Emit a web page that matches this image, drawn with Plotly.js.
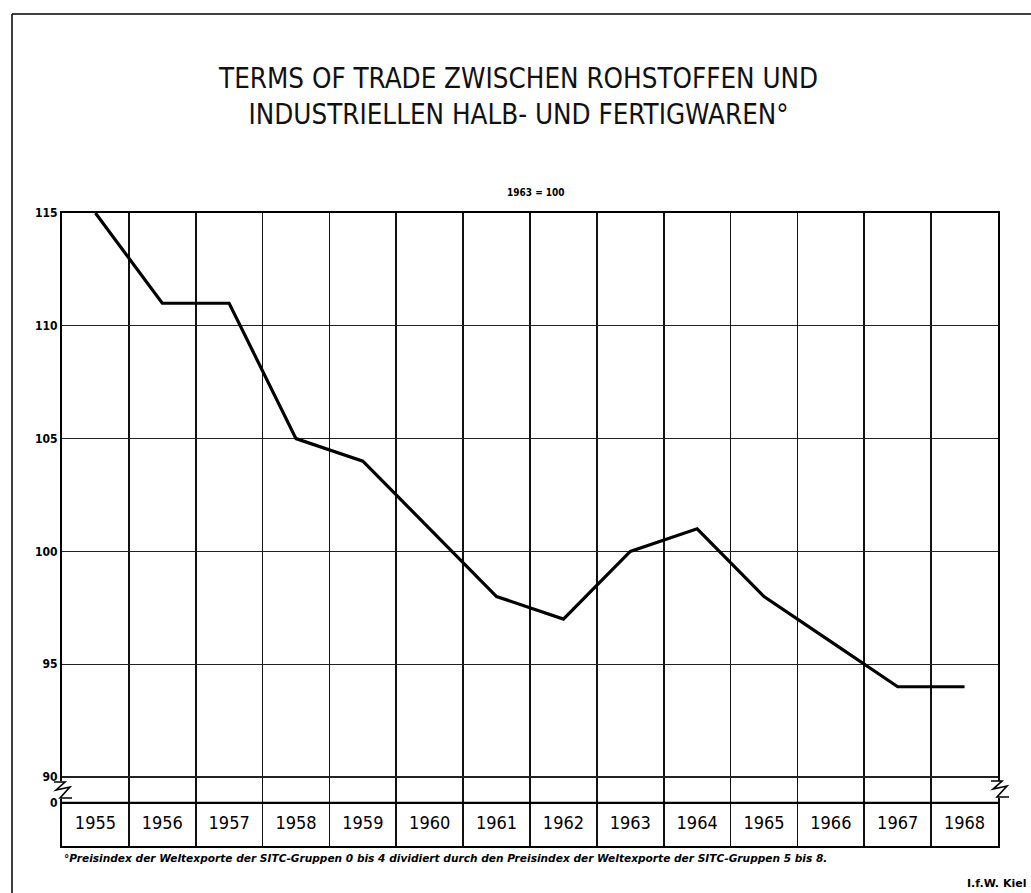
<!DOCTYPE html>
<html>
<head>
<meta charset="utf-8">
<script src="https://cdn.plot.ly/plotly-3.0.1.min.js"></script>
<style>html,body{margin:0;padding:0;background:#fff}#chart{width:1031px;height:893px}</style>
</head>
<body>
<div id="chart"></div>
<script>
// ---- data ----
const years = [1955,1956,1957,1958,1959,1960,1961,1962,1963,1964,1965,1966,1967,1968];
const termsOfTrade = [115,111,111,105,104,101,98,97,100,101,98,96,94,94];
const yTickVals = [90,95,100,105,110,115];
const yTickText = ['90','95','100','105','110','115'];
const breakValue = 88.85;      // position of the axis-break "0"
const boxMid = 87.9;           // vertical centre of the year boxes
const yMin = 86.94, yMax = 115;

// layout geometry (pixels)
const W = 1031, H = 893, L = 62, R = 998, T = 213, B = 846;
const px = x => (x - L) / (R - L);
const py = y => (B - y) / (B - T);

const boundaries = years.map(y => y - 0.5).concat([years[years.length-1] + 0.5]);

const traces = [
  {
    x: years, y: termsOfTrade, type: 'scatter', mode: 'lines',
    line: {color: '#000', width: 3.2}, hoverinfo: 'x+y', cliponaxis: false
  },
  {
    x: years, y: years.map(() => boxMid), type: 'scatter', mode: 'text',
    text: years.map(String), textposition: 'middle center',
    textfont: {family: 'DejaVu Sans Condensed, Liberation Sans Narrow, sans-serif', size: 18, color: '#000'},
    hoverinfo: 'skip'
  }
];

function zig(x0, y0) {
  // zig-zag break symbol around pixel (x0,y0)
  const pts = [[x0-8,y0-8],[x0+3,y0-8],[x0-6,y0],[x0+8,y0-3],[x0-2,y0+8],[x0+10,y0+8]];
  return 'M' + pts.map(p => px(p[0]).toFixed(4) + ',' + py(p[1]).toFixed(4)).join(' L');
}

const shapes = [
  // page frame (scan border)
  {type:'line', xref:'paper', yref:'paper', x0:px(12), x1:px(1031), y0:py(14), y1:py(14), line:{color:'#000', width:1.5}},
  {type:'line', xref:'paper', yref:'paper', x0:px(12), x1:px(12), y0:py(14), y1:py(893), line:{color:'#000', width:1.5}},
  // white gap in frame where break is
  {type:'line', xref:'paper', yref:'paper', x0:px(998), x1:px(998), y0:py(781), y1:py(798), line:{color:'#fff', width:4}},
  {type:'line', xref:'paper', yref:'paper', x0:px(62), x1:px(62), y0:py(781), y1:py(799), line:{color:'#fff', width:4}},
  // axis break symbols
  {type:'path', xref:'paper', yref:'paper', path: zig(62, 790), line:{color:'#000', width:1.6}},
  {type:'path', xref:'paper', yref:'paper', path: zig(999, 789), line:{color:'#000', width:1.6}},
  // thick top of the year boxes
  {type:'line', xref:'paper', yref:'y', x0:0, x1:1, y0:breakValue, y1:breakValue, line:{color:'#000', width:2.2}}
];

const layout = {
  width: W, height: H,
  margin: {l: L, r: W - R, t: T, b: H - B},
  paper_bgcolor: '#fff', plot_bgcolor: '#fff',
  showlegend: false,
  font: {family: 'DejaVu Sans Condensed, sans-serif', color: '#000'},
  title: {
    text: 'TERMS OF TRADE ZWISCHEN ROHSTOFFEN UND<br>INDUSTRIELLEN HALB- UND FERTIGWAREN°',
    font: {family: 'Liberation Sans Narrow, DejaVu Sans Condensed, sans-serif', size: 27.5, color: '#111'},
    x: 0.503, xanchor: 'center', y: 1 - 88/H, yanchor: 'middle'
  },
  xaxis: {
    range: [years[0] - 0.5, years[years.length-1] + 0.5],
    tickvals: boundaries, showticklabels: false, ticks: '',
    showgrid: true, gridcolor: '#111', gridwidth: 1.6,
    showline: true, mirror: true, linecolor: '#000', linewidth: 2,
    zeroline: false, fixedrange: true
  },
  yaxis: {
    range: [yMin, yMax],
    tickvals: yTickVals.concat([breakValue]), ticktext: yTickText.concat(['0']),
    ticks: '', ticklen: 0,
    tickfont: {family: 'DejaVu Sans Condensed, sans-serif', size: 12, color: '#000', weight: 'bold'},
    showgrid: true, gridcolor: '#222', gridwidth: 1.3,
    showline: true, mirror: true, linecolor: '#000', linewidth: 2,
    zeroline: false, fixedrange: true
  },
  shapes: shapes,
  annotations: [
    {text: '1963 = 100', xref:'paper', yref:'paper', x: px(536), y: py(185), showarrow:false,
     font:{family:'DejaVu Sans Condensed, sans-serif', size: 10, color:'#000', weight:'bold'}},
    {text: '°Preisindex der Weltexporte der SITC-Gruppen 0 bis 4 dividiert durch den Preisindex der Weltexporte der SITC-Gruppen 5 bis 8.',
     xref:'paper', yref:'paper', x: px(62), y: py(858), xanchor:'left', yanchor:'middle', showarrow:false,
     font:{family:'DejaVu Sans, sans-serif', size: 10.6, color:'#000', style:'italic', weight: 'bold'}},
    {text: 'I.f.W. Kiel', xref:'paper', yref:'paper', x: px(1028), y: py(883), xanchor:'right', yanchor:'middle', showarrow:false,
     font:{family:'DejaVu Sans, sans-serif', size: 11, color:'#000', weight:'bold'}}
  ]
};

Plotly.newPlot('chart', traces, layout, {displayModeBar: false, staticPlot: true});
</script>
</body>
</html>
